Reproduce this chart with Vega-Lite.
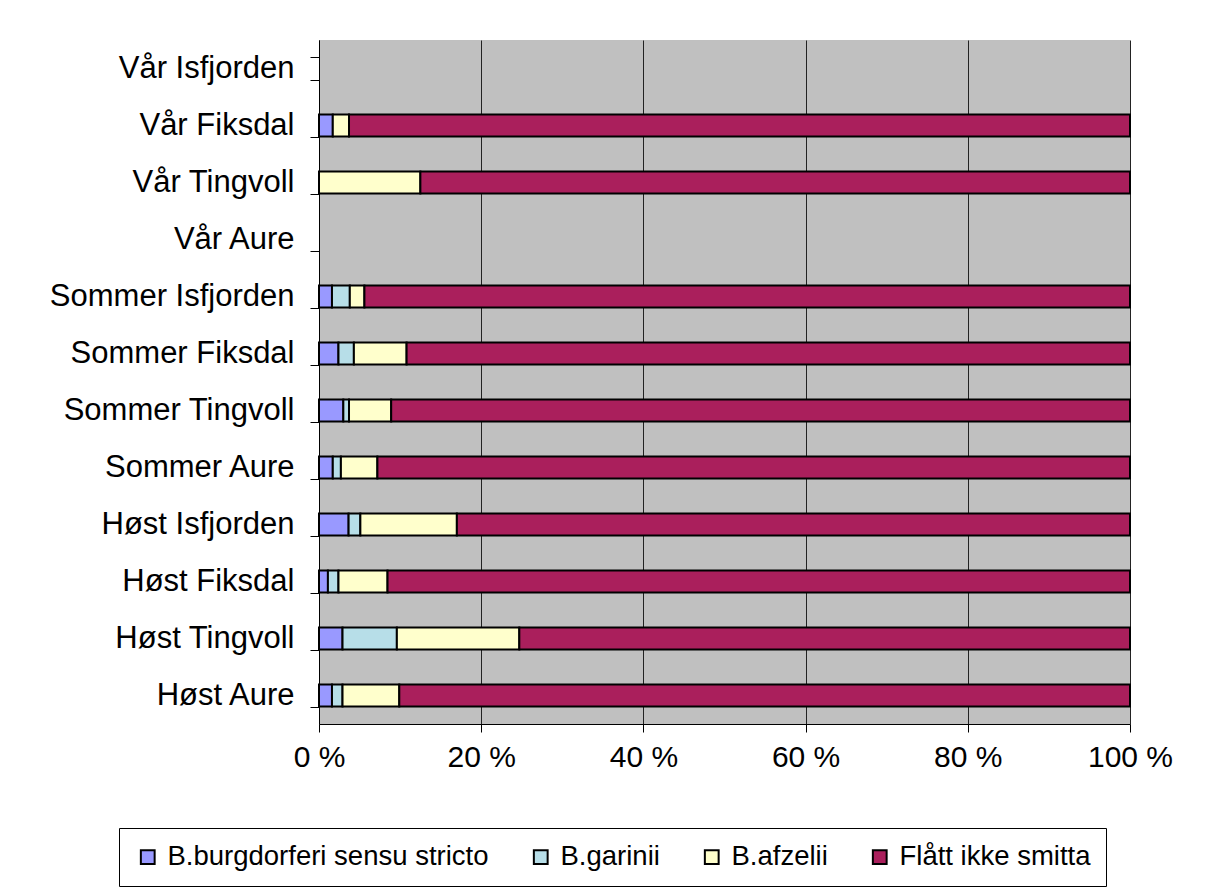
{
  "$schema": "https://vega.github.io/schema/vega-lite/v6.json",
  "width": 811,
  "height": 684,
  "autosize": {"type": "none"},
  "padding": {"left": 319, "top": 40, "right": 86, "bottom": 170},
  "background": "white",
  "config": {
    "view": {"fill": "#C0C0C0", "stroke": null},
    "font": "Liberation Sans"
  },
  "data": {
    "values": [
      {"site": "Vår Fiksdal", "type": "B.burgdorferi sensu stricto", "ord": 1, "pct": 1.7},
      {"site": "Vår Fiksdal", "type": "B.afzelii", "ord": 3, "pct": 2.0},
      {"site": "Vår Fiksdal", "type": "Flått ikke smitta", "ord": 4, "pct": 96.3},
      {"site": "Vår Tingvoll", "type": "B.afzelii", "ord": 3, "pct": 12.5},
      {"site": "Vår Tingvoll", "type": "Flått ikke smitta", "ord": 4, "pct": 87.5},
      {"site": "Sommer Isfjorden", "type": "B.burgdorferi sensu stricto", "ord": 1, "pct": 1.6},
      {"site": "Sommer Isfjorden", "type": "B.garinii", "ord": 2, "pct": 2.2},
      {"site": "Sommer Isfjorden", "type": "B.afzelii", "ord": 3, "pct": 1.8},
      {"site": "Sommer Isfjorden", "type": "Flått ikke smitta", "ord": 4, "pct": 94.4},
      {"site": "Sommer Fiksdal", "type": "B.burgdorferi sensu stricto", "ord": 1, "pct": 2.4},
      {"site": "Sommer Fiksdal", "type": "B.garinii", "ord": 2, "pct": 1.9},
      {"site": "Sommer Fiksdal", "type": "B.afzelii", "ord": 3, "pct": 6.5},
      {"site": "Sommer Fiksdal", "type": "Flått ikke smitta", "ord": 4, "pct": 89.2},
      {"site": "Sommer Tingvoll", "type": "B.burgdorferi sensu stricto", "ord": 1, "pct": 3.0},
      {"site": "Sommer Tingvoll", "type": "B.garinii", "ord": 2, "pct": 0.7},
      {"site": "Sommer Tingvoll", "type": "B.afzelii", "ord": 3, "pct": 5.2},
      {"site": "Sommer Tingvoll", "type": "Flått ikke smitta", "ord": 4, "pct": 91.1},
      {"site": "Sommer Aure", "type": "B.burgdorferi sensu stricto", "ord": 1, "pct": 1.7},
      {"site": "Sommer Aure", "type": "B.garinii", "ord": 2, "pct": 1.0},
      {"site": "Sommer Aure", "type": "B.afzelii", "ord": 3, "pct": 4.5},
      {"site": "Sommer Aure", "type": "Flått ikke smitta", "ord": 4, "pct": 92.8},
      {"site": "Høst Isfjorden", "type": "B.burgdorferi sensu stricto", "ord": 1, "pct": 3.65},
      {"site": "Høst Isfjorden", "type": "B.garinii", "ord": 2, "pct": 1.45},
      {"site": "Høst Isfjorden", "type": "B.afzelii", "ord": 3, "pct": 11.9},
      {"site": "Høst Isfjorden", "type": "Flått ikke smitta", "ord": 4, "pct": 83.0},
      {"site": "Høst Fiksdal", "type": "B.burgdorferi sensu stricto", "ord": 1, "pct": 1.1},
      {"site": "Høst Fiksdal", "type": "B.garinii", "ord": 2, "pct": 1.3},
      {"site": "Høst Fiksdal", "type": "B.afzelii", "ord": 3, "pct": 6.05},
      {"site": "Høst Fiksdal", "type": "Flått ikke smitta", "ord": 4, "pct": 91.55},
      {"site": "Høst Tingvoll", "type": "B.burgdorferi sensu stricto", "ord": 1, "pct": 2.9},
      {"site": "Høst Tingvoll", "type": "B.garinii", "ord": 2, "pct": 6.7},
      {"site": "Høst Tingvoll", "type": "B.afzelii", "ord": 3, "pct": 15.1},
      {"site": "Høst Tingvoll", "type": "Flått ikke smitta", "ord": 4, "pct": 75.3},
      {"site": "Høst Aure", "type": "B.burgdorferi sensu stricto", "ord": 1, "pct": 1.6},
      {"site": "Høst Aure", "type": "B.garinii", "ord": 2, "pct": 1.3},
      {"site": "Høst Aure", "type": "B.afzelii", "ord": 3, "pct": 7.0},
      {"site": "Høst Aure", "type": "Flått ikke smitta", "ord": 4, "pct": 90.1}
    ]
  },
  "mark": {"type": "bar", "stroke": "black", "strokeWidth": 2},
  "encoding": {
    "y": {
      "field": "site",
      "type": "nominal",
      "scale": {
        "domain": ["Vår Isfjorden", "Vår Fiksdal", "Vår Tingvoll", "Vår Aure", "Sommer Isfjorden", "Sommer Fiksdal", "Sommer Tingvoll", "Sommer Aure", "Høst Isfjorden", "Høst Fiksdal", "Høst Tingvoll", "Høst Aure"],
        "paddingInner": 0.614,
        "paddingOuter": 0.307
      },
      "axis": {
        "title": null,
        "tickBand": "extent",
        "labelFontSize": 31,
        "labelColor": "black",
        "labelPadding": 16,
        "tickSize": 9,
        "tickColor": "black",
        "tickWidth": 1,
        "domainColor": "black",
        "domainWidth": 1,
        "grid": false,
        "labelLimit": 0
      }
    },
    "x": {
      "field": "pct",
      "type": "quantitative",
      "stack": "zero",
      "scale": {"domain": [0, 100], "nice": false},
      "axis": {
        "title": null,
        "values": [0, 20, 40, 60, 80, 100],
        "labelExpr": "datum.value + ' %'",
        "labelFontSize": 30,
        "labelColor": "black",
        "labelPadding": 10,
        "tickSize": 8,
        "tickColor": "black",
        "domainColor": "black",
        "grid": true,
        "gridColor": "#222222",
        "gridWidth": 1,
        "labelFlush": false
      }
    },
    "color": {
      "field": "type",
      "type": "nominal",
      "scale": {
        "domain": ["B.burgdorferi sensu stricto", "B.garinii", "B.afzelii", "Flått ikke smitta"],
        "range": ["#9999FF", "#B7DEE8", "#FFFFCC", "#AA1F5C"]
      },
      "legend": {
        "title": null,
        "orient": "none",
        "legendX": -200,
        "legendY": 788,
        "direction": "horizontal",
        "columns": 4,
        "strokeColor": "black",
        "fillColor": "white",
        "padding": 15,
        "symbolType": "square",
        "symbolSize": 190,
        "symbolStrokeColor": "black",
        "symbolStrokeWidth": 2,
        "labelFontSize": 27.5,
        "labelColor": "black",
        "labelLimit": 0,
        "labelOffset": 6,
        "columnPadding": 38
      }
    },
    "order": {"field": "ord", "type": "quantitative"}
  }
}
